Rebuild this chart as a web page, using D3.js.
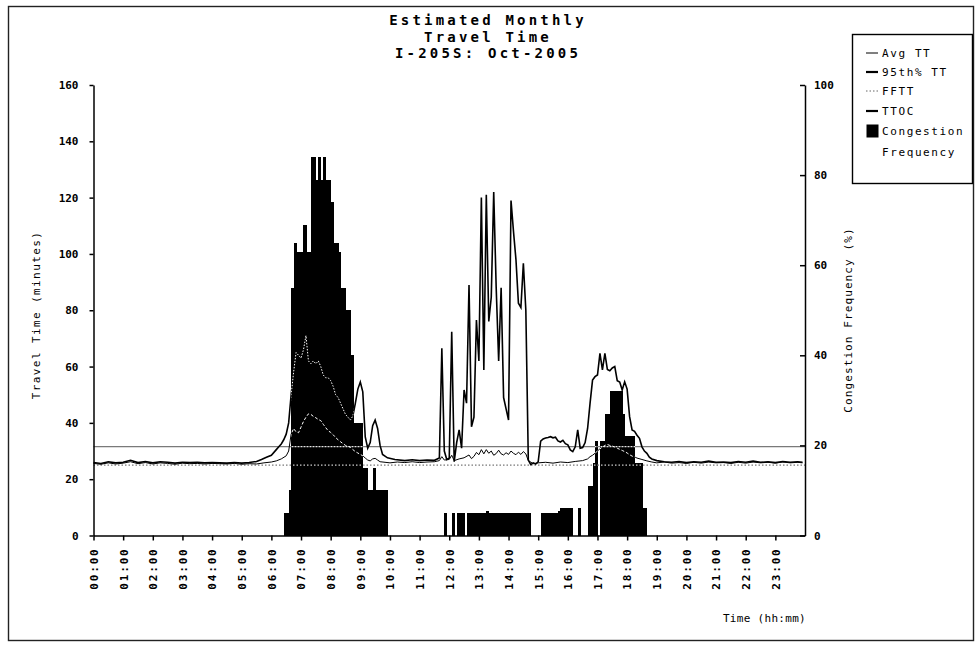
<!DOCTYPE html>
<html>
<head>
<meta charset="utf-8">
<script src="https://cdn.jsdelivr.net/npm/d3@7"></script>
<style>
  body { margin: 0; background: #fff; }
  svg { display: block; }
  text { font-family: "DejaVu Sans Mono", monospace; fill: #000; }
</style>
</head>
<body>
<svg id="chart" width="976" height="646"></svg>
<script>
// ---- data ----
const titleLines = ["Estimated Monthly", "Travel Time", "I-205S: Oct-2005"];
const hourLabels = ["00:00","01:00","02:00","03:00","04:00","05:00","06:00","07:00","08:00","09:00","10:00","11:00",
                    "12:00","13:00","14:00","15:00","16:00","17:00","18:00","19:00","20:00","21:00","22:00","23:00"];
const leftTicks = [0, 20, 40, 60, 80, 100, 120, 140, 160];
const rightTicks = [0, 20, 40, 60, 80, 100];

// free-flow travel time and travel time at onset of congestion (minutes)
const fftt = 25.0;
const ttoc = 31.6;

// average travel time (minutes)
const avgTT = [
  ["00:00",25.6],["00:15",25.3],["00:30",25.8],["00:45",25.4],["01:00",25.7],["01:15",26.2],["01:30",25.5],["01:45",25.9],
  ["02:00",25.4],["02:15",25.8],["02:30",25.6],["02:45",25.3],["03:00",25.7],["03:15",25.5],["03:30",25.6],["03:45",25.4],
  ["04:00",25.6],["04:15",25.5],["04:30",25.4],["04:45",25.6],["05:00",25.3],["05:15",25.5],["05:30",25.4],["05:45",25.8],
  ["06:00",26.1],["06:10",26.5],["06:20",27.2],["06:30",28.3],["06:35",30],["06:40",36],["06:45",38],["06:50",36.8],
  ["06:55",36.5],["07:00",38.5],["07:05",40.5],["07:10",42],["07:15",43.2],["07:20",43],["07:25",42.3],["07:30",41.8],
  ["07:35",41.2],["07:40",40.8],["07:45",39.5],["07:50",38.3],["07:55",37.2],["08:00",36.6],["08:05",35.8],["08:10",34.8],
  ["08:15",34],["08:20",33.3],["08:25",32.6],["08:30",32],["08:35",31.7],["08:40",31.3],["08:45",30.5],["08:50",29.8],
  ["08:55",29.3],["09:00",28.8],["09:05",28.3],["09:10",27.5],["09:15",26.8],["09:20",26.5],["09:25",27.2],["09:30",27.4],
  ["09:35",26.8],["09:40",26.2],["09:50",26.0],["10:00",25.8],["10:15",26.1],["10:30",25.9],["10:45",26.2],["11:00",25.9],
  ["11:15",26.1],["11:30",26.2],["11:40",26.6],["11:45",28],["11:50",26.8],["12:00",27],["12:05",28.5],["12:10",26.6],
  ["12:20",27.2],["12:30",27.6],["12:40",28.6],["12:45",27.3],["12:50",28.1],["12:55",29.5],["13:00",28.7],["13:05",30.5],
  ["13:10",29],["13:15",30.5],["13:20",29.2],["13:25",30],["13:30",28.5],["13:35",29.1],["13:40",30.3],["13:45",29],
  ["13:50",28.6],["13:55",29.4],["14:00",28.8],["14:05",30],["14:10",29.2],["14:15",28.7],["14:20",29.6],["14:25",28.8],
  ["14:30",29.8],["14:35",29],["14:40",26.6],["14:50",25.5],["15:00",25.8],["15:15",26],["15:30",25.7],["15:45",26.1],
  ["16:00",25.9],["16:15",26.3],["16:30",26.6],["16:40",27.2],["16:45",28],["16:50",28.5],["16:55",29.2],["17:00",30],
  ["17:05",30.8],["17:10",31.4],["17:15",32],["17:20",32.3],["17:25",32],["17:30",31.8],["17:35",31.4],["17:40",31],
  ["17:45",30.6],["17:50",30.2],["17:55",29.8],["18:00",29.3],["18:05",28.7],["18:10",28.2],["18:15",27.9],["18:20",27.5],
  ["18:30",27],["18:40",26.5],["18:50",26.1],["19:00",25.8],["19:15",26.1],["19:30",25.7],["19:45",25.9],["20:00",25.6],
  ["20:15",26],["20:30",25.7],["20:45",26.1],["21:00",25.8],["21:15",25.9],["21:30",25.6],["21:45",26],["22:00",25.7],
  ["22:15",26.1],["22:30",25.8],["22:45",26],["23:00",25.7],["23:15",26.1],["23:30",25.8],["23:45",26],["23:55",25.8]
];

// 95th percentile travel time (minutes)
const p95TT = [
  ["00:00",25.9],["00:15",25.6],["00:30",26.2],["00:45",25.8],["01:00",26.0],["01:15",26.7],["01:30",25.9],["01:45",26.3],
  ["02:00",25.8],["02:15",26.2],["02:30",26.0],["02:45",25.7],["03:00",26.0],["03:15",25.9],["03:30",26.0],["03:45",25.8],
  ["04:00",25.9],["04:15",25.8],["04:30",25.7],["04:45",25.9],["05:00",25.7],["05:15",25.9],["05:30",26.3],["05:40",27],
  ["05:50",27.8],["06:00",28.5],["06:10",30.5],["06:15",31.5],["06:20",32.5],["06:25",34],["06:30",36],["06:35",40],
  ["06:40",50],["06:45",58],["06:50",65],["06:55",64],["07:00",63],["07:05",66],["07:10",71],["07:15",62],
  ["07:20",61],["07:25",62],["07:30",61],["07:35",62],["07:40",60],["07:45",57],["07:50",56],["07:55",56],
  ["08:00",55],["08:05",53],["08:10",50],["08:15",49],["08:20",47],["08:25",45],["08:30",43],["08:35",42],
  ["08:40",41],["08:45",42.5],["08:50",47],["08:55",52],["09:00",54.5],["09:05",51],["09:10",35],["09:15",31],
  ["09:20",33],["09:25",39],["09:30",41],["09:35",38],["09:40",32],["09:45",28.8],["09:55",27.6],["10:10",27],
  ["10:30",26.6],["10:45",26.9],["11:00",26.6],["11:15",26.8],["11:30",26.7],["11:40",27.5],["11:45",66.5],["11:50",30],
  ["11:55",27],["12:00",27.5],["12:05",72.4],["12:10",26.2],["12:15",33],["12:20",37.5],["12:25",31],["12:30",51.7],
  ["12:35",47],["12:40",89],["12:45",38.6],["12:50",42],["12:55",76.5],["13:00",62],["13:05",120],["13:10",58.8],
  ["13:15",121],["13:20",76],["13:25",84.6],["13:30",122],["13:35",88],["13:40",62],["13:45",88],["13:50",49],
  ["13:55",45],["14:00",41],["14:05",119],["14:10",108],["14:15",98],["14:20",82.5],["14:25",81],["14:30",96.7],
  ["14:35",80],["14:40",26.8],["14:45",25.2],["14:50",25.8],["14:55",25.4],["15:00",26.2],["15:05",33.5],["15:10",34.3],
  ["15:15",34.6],["15:20",34.8],["15:25",35.1],["15:30",34.7],["15:35",34.9],["15:40",33.6],["15:45",33.2],["15:50",33.8],
  ["15:55",32.6],["16:00",32.2],["16:05",30.4],["16:10",29.8],["16:15",31.5],["16:20",37.5],["16:25",31],["16:30",31.2],
  ["16:35",33],["16:40",38],["16:45",47],["16:50",55.2],["16:55",56.4],["17:00",57],["17:05",64.7],["17:10",58.8],
  ["17:15",64.7],["17:20",59],["17:25",58.5],["17:30",59.5],["17:35",60],["17:40",55],["17:45",54.5],["17:50",51.7],
  ["17:55",54.6],["18:00",52],["18:05",42.2],["18:10",37.5],["18:15",37],["18:20",35.6],["18:25",34.5],["18:30",31.5],
  ["18:35",30],["18:40",29.2],["18:45",27.8],["18:50",27.2],["19:00",26.6],["19:15",26.2],["19:30",26.0],["19:45",26.3],
  ["20:00",25.9],["20:15",26.2],["20:30",26.0],["20:45",26.4],["21:00",26.0],["21:15",26.1],["21:30",25.9],["21:45",26.3],
  ["22:00",26.0],["22:15",26.4],["22:30",26.0],["22:45",26.2],["23:00",25.9],["23:15",26.3],["23:30",26.0],["23:45",26.2],
  ["23:55",26.0]
];

// congestion frequency (% of days) per 5-minute interval start
const congestion = [
  ["06:25",5],["06:30",5],["06:35",10],["06:40",55],["06:45",65],["06:50",63],["06:55",63],["07:00",63],
  ["07:05",69],["07:10",63],["07:15",63],["07:20",84],["07:25",84],["07:30",79],["07:35",84],["07:40",79],
  ["07:45",84],["07:50",79],["07:55",79],["08:00",74],["08:05",65],["08:10",65],["08:15",63],["08:20",55],
  ["08:25",55],["08:30",50],["08:35",50],["08:40",40],["08:45",25],["08:50",25],["08:55",25],["09:00",25],
  ["09:05",15],["09:10",15],["09:15",10],["09:20",10],["09:25",15],["09:30",10],["09:35",10],["09:40",10],
  ["09:45",10],["09:50",10],
  ["11:50",5],["12:05",5],["12:15",5],["12:20",5],["12:25",5],["12:35",5],["12:40",5],
  ["12:45",5],["12:50",5],["12:55",5],["13:00",5],["13:05",5],["13:10",5],["13:15",5.5],["13:20",5],
  ["13:25",5],["13:30",5],["13:35",5],["13:40",5],["13:45",5],["13:50",5],["13:55",5],["14:00",5],
  ["14:05",5],["14:10",5],["14:15",5],["14:20",5],["14:25",5],["14:30",5],["14:35",5],["14:40",5],
  ["15:05",5],["15:10",5],["15:15",5],["15:20",5],["15:25",5],["15:30",5],["15:35",5],["15:40",5.5],
  ["15:45",6],["15:50",6],["15:55",6],["16:00",6],["16:05",6],["16:20",6],
  ["16:40",11],["16:45",11],["16:50",16],["16:55",21],["17:05",21],["17:10",21],["17:15",27],["17:20",27],
  ["17:25",32],["17:30",32],["17:35",32],["17:40",32],["17:45",32],["17:50",27],["17:55",22],["18:00",22],
  ["18:05",22],["18:10",22],["18:15",16],["18:20",16],["18:25",16],["18:30",6],["18:35",6]
];

const legendItems = [
  { label: "Avg TT", kind: "thin" },
  { label: "95th% TT", kind: "thick" },
  { label: "FFTT", kind: "dot" },
  { label: "TTOC", kind: "thick" },
  { label: "Congestion", kind: "box" },
  { label: "Frequency", kind: "none" }
];

// ---- helpers ----
const toMin = s => { const [h, m] = s.split(":").map(Number); return h * 60 + m; };
const BIN = 5;

// ---- layout ----
const svg = d3.select("#chart");
const plot = { left: 93.5, right: 805, top: 85, bottom: 535.5 };

const x = d3.scaleLinear().domain([0, 1440]).range([plot.left, plot.right]);
const yL = d3.scaleLinear().domain([0, 160]).range([plot.bottom, plot.top]);
const yR = d3.scaleLinear().domain([0, 100]).range([plot.bottom, plot.top]);

// outer frame
svg.append("rect").attr("x", 8.5).attr("y", 6.5).attr("width", 965).attr("height", 634)
  .attr("fill", "none").attr("stroke", "#222").attr("stroke-width", 1.4);

// title
svg.append("g").selectAll("text").data(titleLines).join("text")
  .attr("x", 488).attr("y", (d, i) => 25 + i * 16.5)
  .attr("text-anchor", "middle").attr("font-size", 14).attr("font-weight", "bold")
  .style("letter-spacing", "3.2px")
  .text(d => d);

// ---- lines ----
const lineL = d3.line().x(d => x(toMin(d[0]))).y(d => yL(d[1]));
const flat = v => [["00:00", v], ["24:00", v]];

function drawLines(g, inverted) {
  g.append("path").attr("d", lineL(flat(ttoc))).attr("fill", "none")
    .attr("stroke", inverted ? "#e6e6e6" : "#7a7a7a").attr("stroke-width", 1.2)
    .attr("stroke-dasharray", inverted ? "2,1" : null);
  g.append("path").attr("d", lineL(flat(fftt))).attr("fill", "none")
    .attr("stroke", inverted ? "#fff" : "#555").attr("stroke-width", 1)
    .attr("stroke-dasharray", "1.5,2");
  g.append("path").attr("d", lineL(avgTT)).attr("fill", "none")
    .attr("stroke", inverted ? "#fff" : "#000").attr("stroke-width", 1)
    .attr("stroke-dasharray", inverted ? "3,2" : null);
  g.append("path").attr("d", lineL(p95TT)).attr("fill", "none")
    .attr("stroke", inverted ? "#fff" : "#000").attr("stroke-width", inverted ? 1 : 1.6)
    .attr("stroke-dasharray", inverted ? "1.5,1.5" : null);
}

drawLines(svg.append("g"), false);

// ---- congestion bars ----
// each bar spans one 5-minute interval; a slight overlap keeps neighbouring bars seamless
const barAttrs = sel => sel
  .attr("x", d => x(toMin(d[0])))
  .attr("width", d => x(toMin(d[0]) + BIN) - x(toMin(d[0])) + 0.6)
  .attr("y", d => yR(d[1]))
  .attr("height", d => yR(0) - yR(d[1]));

svg.append("g").attr("shape-rendering", "crispEdges")
  .selectAll("rect").data(congestion).join("rect")
  .call(barAttrs).attr("fill", "#000");

// lines redrawn in white where they pass over the bars
const clip = svg.append("defs").append("clipPath").attr("id", "barClip");
clip.selectAll("rect").data(congestion).join("rect").call(barAttrs);
drawLines(svg.append("g").attr("clip-path", "url(#barClip)"), true);

// ---- axes ----
const axisFont = g => g.attr("font-family", "DejaVu Sans Mono, monospace").attr("font-size", 11);

const gLeft = svg.append("g").attr("transform", `translate(${plot.left},0)`)
  .call(d3.axisLeft(yL).tickValues(leftTicks).tickSize(4).tickSizeOuter(0).tickPadding(11))
  .call(axisFont);
const gRight = svg.append("g").attr("transform", `translate(${plot.right},0)`)
  .call(d3.axisRight(yR).tickValues(rightTicks).tickSize(-5).tickSizeOuter(0).tickPadding(9))
  .call(axisFont);
const gBottom = svg.append("g").attr("transform", `translate(0,${plot.bottom})`)
  .call(d3.axisBottom(x).tickValues(hourLabels.map(toMin)).tickSize(5).tickSizeOuter(0)
    .tickFormat((d, i) => hourLabels[i]))
  .call(axisFont);
gBottom.selectAll(".tick text")
  .attr("text-anchor", "end").attr("y", 0).attr("dy", "0.35em")
  .attr("transform", "translate(0,12) rotate(-90)")
  .style("letter-spacing", "1.8px");

[gLeft, gRight, gBottom].forEach(g => {
  g.selectAll(".domain, .tick line").attr("stroke", "#000").attr("stroke-width", 1.5);
  g.selectAll("text").attr("fill", "#000").attr("font-weight", "bold");
});

// axis titles
svg.append("text").attr("transform", "translate(36,315) rotate(-90)")
  .attr("text-anchor", "middle").attr("dy", "0.35em").attr("font-size", 11)
  .style("letter-spacing", "1.4px").text("Travel Time (minutes)");
svg.append("text").attr("transform", "translate(848,320) rotate(-90)")
  .attr("text-anchor", "middle").attr("dy", "0.35em").attr("font-size", 11)
  .style("letter-spacing", "1.1px").text("Congestion Frequency (%)");
svg.append("text").attr("x", 806).attr("y", 622).attr("text-anchor", "end")
  .attr("font-size", 11).style("letter-spacing", "0.3px").text("Time (hh:mm)");

// ---- legend ----
const lg = svg.append("g");
lg.append("rect").attr("x", 852.5).attr("y", 34.5).attr("width", 120).attr("height", 149)
  .attr("fill", "#fff").attr("stroke", "#000").attr("stroke-width", 1.4);
const rowY = [53, 72, 91, 111, 131, 152];
legendItems.forEach((it, i) => {
  const y = rowY[i];
  if (it.kind === "thin" || it.kind === "thick") {
    lg.append("line").attr("x1", 866).attr("x2", 878).attr("y1", y).attr("y2", y)
      .attr("stroke", "#000").attr("stroke-width", it.kind === "thin" ? 1 : 2.2);
  } else if (it.kind === "dot") {
    lg.append("line").attr("x1", 866).attr("x2", 878).attr("y1", y).attr("y2", y)
      .attr("stroke", "#666").attr("stroke-width", 1).attr("stroke-dasharray", "1.5,2");
  } else if (it.kind === "box") {
    lg.append("rect").attr("x", 866.5).attr("y", y - 6.5).attr("width", 12).attr("height", 13).attr("fill", "#000");
  }
  lg.append("text").attr("x", 882).attr("y", y).attr("dy", "0.35em")
    .attr("font-size", 11).style("letter-spacing", "1.6px").text(it.label);
});
</script>
</body>
</html>
